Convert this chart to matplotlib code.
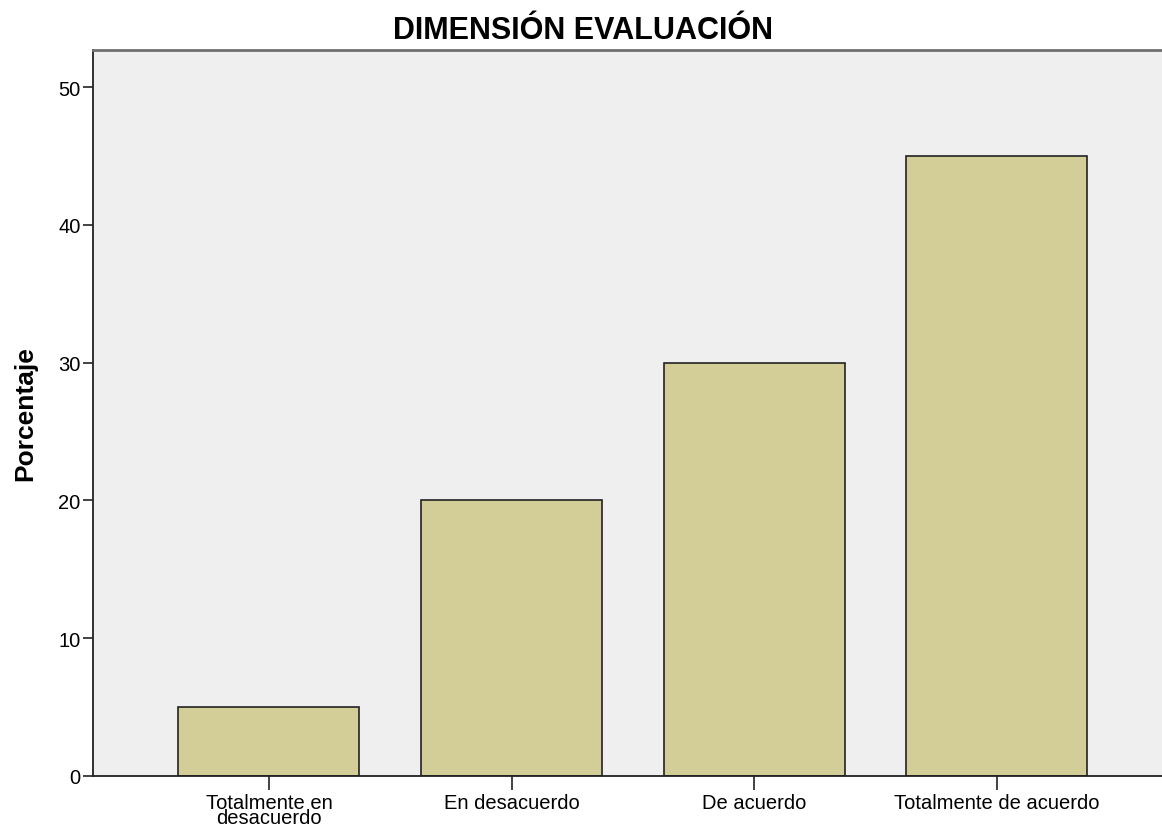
import numpy as np
import matplotlib.pyplot as plt

plt.rcParams['font.family'] = ['Liberation Sans', 'DejaVu Sans']

categorias = ['Totalmente en\ndesacuerdo', 'En desacuerdo', 'De acuerdo', 'Totalmente de acuerdo']
porcentajes = [5, 20, 30, 45]
yticks = [0, 10, 20, 30, 40, 50]

fig = plt.figure(figsize=(11.62, 8.28), dpi=100)
ax = fig.add_axes([0.080, 0.0616, 0.920, 0.8768])
ax.set_facecolor('#efefef')

x = np.arange(len(categorias))
ax.bar(x, porcentajes, width=0.746, color='#d3ce97', edgecolor='#222222', linewidth=1.2, zorder=2)

ax.set_xlim(-0.725, 3.68)
ax.set_ylim(0, 52.69)
ax.set_yticks(yticks)
ax.set_xticks(x)
ax.set_xticklabels(categorias, fontsize=14.5, linespacing=0.75)
ax.tick_params(axis='y', labelsize=14.5, length=7, width=1.2, color='#222222', pad=2)
ax.tick_params(axis='x', length=10, width=1.2, color='#222222', pad=2)

for s in ['left', 'bottom']:
    ax.spines[s].set_color('#222222')
    ax.spines[s].set_linewidth(1.3)
ax.spines['top'].set_color('#707070')
ax.spines['top'].set_linewidth(2)
ax.spines['right'].set_visible(False)

ax.set_ylabel('Porcentaje', fontsize=19, fontweight='bold', labelpad=15)
fig.text(0.502, 0.963, 'DIMENSIÓN EVALUACIÓN', fontsize=22, fontweight='bold', ha='center', va='center')

fig.savefig('out.png', dpi=100)
